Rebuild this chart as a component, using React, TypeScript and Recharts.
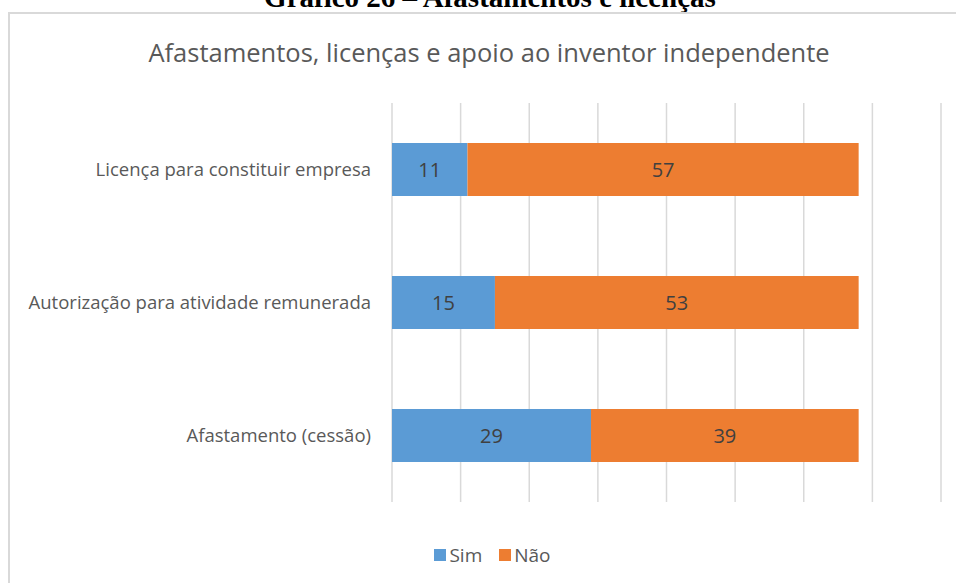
import { Bar, BarChart, CartesianGrid, LabelList, Legend, XAxis, YAxis } from 'recharts';

const categories = [
  'Licença para constituir empresa',
  'Autorização para atividade remunerada',
  'Afastamento (cessão)',
];
const simValues = [11, 15, 29];
const naoValues = [57, 53, 39];
const xTicks = [0, 10, 20, 30, 40, 50, 60, 70, 80];

const data = categories.map((name, i) => ({
  name,
  Sim: simValues[i],
  Não: naoValues[i],
}));

const FONT = '"Open Sans", sans-serif';
const GRAY = '#595959';

function ChartLegend() {
  const items = [
    { label: 'Sim', color: '#5B9BD5' },
    { label: 'Não', color: '#ED7D31' },
  ];
  return (
    <div style={{ display: 'flex', justifyContent: 'center', gap: 17, fontFamily: FONT, fontSize: 19, color: GRAY }}>
      {items.map((it) => (
        <div key={it.label} style={{ display: 'flex', alignItems: 'center', gap: 3 }}>
          <span style={{ width: 12, height: 12, background: it.color, display: 'inline-block' }} />
          <span>{it.label}</span>
        </div>
      ))}
    </div>
  );
}

export default function App() {
  return (
    <div style={{ position: 'absolute', left: 0, top: 0, width: 956, height: 583, overflow: 'hidden', background: '#fff' }}>
      <div
        style={{
          position: 'absolute',
          top: -17,
          left: 0,
          width: 980,
          textAlign: 'center',
          fontFamily: '"Liberation Serif", serif',
          fontWeight: 'bold',
          fontSize: 29,
          lineHeight: '29px',
          color: '#000',
        }}
      >
        Gráfico 26 – Afastamentos e licenças
      </div>
      <div
        style={{
          position: 'absolute',
          left: 8,
          top: 12,
          width: 1000,
          height: 700,
          border: '2px solid #d9d9d9',
        }}
      />
      <div
        style={{
          position: 'absolute',
          top: 35,
          left: 0,
          width: 978,
          textAlign: 'center',
          fontFamily: FONT,
          fontSize: 25.5,
          lineHeight: '34px',
          color: GRAY,
        }}
      >
        Afastamentos, licenças e apoio ao inventor independente
      </div>
      <div style={{ position: 'absolute', left: 0, top: 0 }}>
        <BarChart
          width={956}
          height={583}
          data={data}
          layout="vertical"
          margin={{ top: 103, right: 15, bottom: 55, left: 0 }}
        >
          <CartesianGrid horizontal={false} stroke="#d9d9d9" strokeWidth={1.5} />
          <XAxis type="number" domain={[0, 80]} ticks={xTicks} hide />
          <YAxis
            type="category"
            dataKey="name"
            width={392}
            axisLine={false}
            tickLine={false}
            tickMargin={15}
            tick={{ fill: GRAY, fontFamily: FONT, fontSize: 18.5 }}
          />
          <Bar dataKey="Sim" stackId="a" fill="#5B9BD5" barSize={53} isAnimationActive={false}>
            <LabelList dataKey="Sim" position="center" fill="#404040" fontFamily={FONT} fontSize={20} />
          </Bar>
          <Bar dataKey="Não" stackId="a" fill="#ED7D31" barSize={53} isAnimationActive={false}>
            <LabelList dataKey="Não" position="center" fill="#404040" fontFamily={FONT} fontSize={20} />
          </Bar>
          <Legend
            content={<ChartLegend />}
            wrapperStyle={{ top: 542, left: 0, width: 985 }}
          />
        </BarChart>
      </div>
    </div>
  );
}
